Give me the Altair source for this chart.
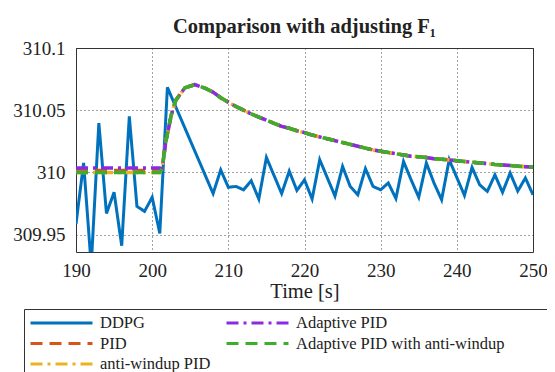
import altair as alt
import pandas as pd

# ---- data ----
ddpg_t = [190, 191, 192, 193, 194, 195, 196, 197, 198, 199, 200, 201, 202,
          208, 209, 210, 211, 212, 213, 214, 215, 217, 218, 219, 220, 221, 222,
          224, 225, 226, 227, 228, 229, 230, 231, 232, 233, 234, 235, 236, 237,
          238, 239, 241, 242, 243, 244, 245, 246, 247, 248, 249, 250]
ddpg_v = [309.9585, 310.0076, 309.925, 310.0397, 309.967, 309.984, 309.941,
          310.045, 309.9727, 309.9687, 309.980, 309.951, 310.0683,
          309.983, 310.002, 309.988, 309.9887, 309.986, 309.9933, 309.9786,
          310.012, 309.983, 310.001, 309.9855, 309.994, 309.9786, 310.0102,
          309.981, 310.0048, 309.9887, 309.982, 310.003, 309.9887, 309.986,
          309.9915, 309.979, 310.0088, 309.994, 309.980, 310.0076, 309.9915,
          309.978, 310.0102, 309.9815, 310.004, 309.990, 309.9847, 309.998,
          309.984, 309.9995, 309.985, 309.9955, 309.982]

# controllers: time stamps and response (shared shape after the step)
ctrl_t = [190, 195, 201, 201.3, 201.8, 202.5, 203.1, 204.3, 205.6, 207, 208,
          209, 210, 211, 212, 213, 214, 215, 216, 217, 218, 219, 220, 221,
          222, 223, 224, 225, 226, 227, 228, 229, 230, 231, 232, 233, 234,
          235, 236, 237, 238, 239, 240, 241, 242, 243, 244, 245, 246, 247,
          248, 249, 250]
ctrl_tail = [310.003, 310.025, 310.046, 310.058, 310.068, 310.0705, 310.0675,
             310.0645, 310.060, 310.0565, 310.053, 310.050, 310.047, 310.0445,
             310.042, 310.0395, 310.037, 310.0355, 310.0335, 310.032, 310.030,
             310.0285, 310.027, 310.0255, 310.024, 310.0225, 310.021, 310.0195,
             310.018, 310.017, 310.016, 310.015, 310.014, 310.013, 310.0125,
             310.012, 310.011, 310.0105, 310.010, 310.0094, 310.0088, 310.0082,
             310.0076, 310.007, 310.0064, 310.006, 310.0055, 310.005, 310.0046,
             310.0043]
pid_pre = [310.0015, 310.0015, 310.0015]
aw_pre = [310.0, 310.0, 310.0]
apid_pre = [310.0035, 310.0035, 310.0035]
apid_aw_pre = [310.0, 310.0, 310.0]

# trailing no-break spaces (kept from trimming by a zero-width char) only
# widen the legend box as in the reference; the visible text is unchanged
AW_ADAPT = "Adaptive PID with anti-windup" + "\u00a0" * 10 + "\u200b"
series_names = ["DDPG", "PID", "anti-windup PID", "Adaptive PID", AW_ADAPT]
series_colors = ["#0072BD", "#D95319", "#EDB120", "#8A2BE2", "#3DAE2B"]
series_dashes = [[1, 0], [12, 7], [12, 5, 3, 5], [12, 5, 3, 5], [12, 7]]

x_ticks = [190, 200, 210, 220, 230, 240, 250]
y_ticks = [309.95, 310.0, 310.05, 310.1]

rows = []
for t, v in zip(ddpg_t, ddpg_v):
    rows.append({"t": t, "v": v, "s": "DDPG"})
for name, pre in [("PID", pid_pre), ("anti-windup PID", aw_pre),
                  ("Adaptive PID", apid_pre), (AW_ADAPT, apid_aw_pre)]:
    for t, v in zip(ctrl_t, pre + ctrl_tail):
        rows.append({"t": t, "v": v, "s": name})
df = pd.DataFrame(rows)

FONT = "Liberation Serif"

leg = dict(title=None, labelFont=FONT, labelFontSize=16.5, labelColor="#222",
           labelLimit=500)
color = alt.Color("s:N", scale=alt.Scale(domain=series_names, range=series_colors),
                  legend=alt.Legend(**leg))
dash = alt.StrokeDash("s:N", scale=alt.Scale(domain=series_names, range=series_dashes),
                      legend=alt.Legend(**leg))

xenc = alt.X("t:Q", scale=alt.Scale(domain=[190, 250], nice=False),
             axis=alt.Axis(values=x_ticks, title="Time [s]", format="d"))
yenc = alt.Y("v:Q", scale=alt.Scale(domain=[309.936, 310.1], nice=False, zero=False),
             axis=alt.Axis(values=y_ticks, title=None, format=".6~g"))

layers = []
for name in series_names:
    sw = 3 if name == "DDPG" else 3.5
    layers.append(
        alt.Chart(df).transform_filter(alt.datum.s == name)
        .mark_line(strokeWidth=sw, clip=True)
        .encode(x=xenc, y=yenc, color=color, strokeDash=dash)
    )

chart = (
    alt.layer(*layers, data=df)
    .properties(
        width=457, height=204,
        padding={"left": 68, "top": 40, "right": 14, "bottom": 120},
        autosize=alt.AutoSizeParams(type="none"),
        title=alt.TitleParams("Comparison with adjusting F\u2081", font=FONT,
                              fontSize=20.5, fontWeight="bold", color="#222",
                              anchor="middle", offset=2),
    )
    .configure(font=FONT)
    .configure_view(stroke="#333", strokeWidth=1)
    .configure_axis(
        labelFont=FONT, labelFontSize=19, labelColor="#222",
        titleFont=FONT, titleFontSize=20.5, titleFontWeight="normal", titleColor="#222",
        domain=False, ticks=False, labelFlush=False,
        grid=True, gridDash=[1, 3], gridColor="#333", gridWidth=1, gridOpacity=0.9,
    )
    .configure_axisX(labelPadding=9, titlePadding=1)
    .configure_axisY(labelPadding=11)
    .configure_legend(
        orient="none", legendX=-52, legendY=261, columns=2,
        symbolType="stroke", symbolSize=3844, symbolStrokeWidth=3,
        clipHeight=18, rowPadding=2.5, columnPadding=14,
        labelFont=FONT, labelFontSize=16.5, labelColor="#222", labelOffset=6,
        padding=5, strokeColor="#333", fillColor="white", labelLimit=500,
    )
)

chart.save("out.html", embed_options={"renderer": "svg", "actions": False})
